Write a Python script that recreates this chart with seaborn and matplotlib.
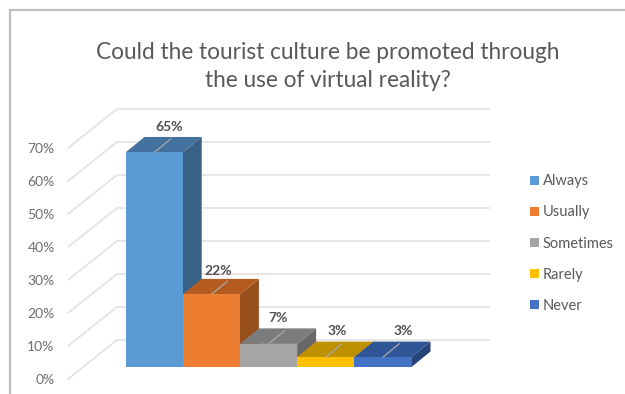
import matplotlib
matplotlib.use("Agg")
import matplotlib.pyplot as plt
import pandas as pd
import seaborn as sns
from matplotlib.lines import Line2D
from matplotlib.patches import Patch, Polygon

# Survey answers and their shares, in percent
categories = ["Always", "Usually", "Sometimes", "Rarely", "Never"]
values = [65, 22, 7, 3, 3]
value_labels = ["65%", "22%", "7%", "3%", "3%"]
axis_levels = [0, 10, 20, 30, 40, 50, 60, 70]
axis_labels = ["0%", "10%", "20%", "30%", "40%", "50%", "60%", "70%"]

# Face colours of each box
front_colors = ["#5B9BD5", "#ED7D31", "#A5A5A5", "#FFC000", "#4472C4"]
top_colors = ["#44729F", "#B55B20", "#7C7C7C", "#BF9000", "#2F5597"]
side_colors = ["#3A6186", "#97501C", "#686868", "#A67D00", "#264478"]

GRID = "#E2E2E2"
TEXT = "#595959"
FONT = "Lato"

# Oblique projection, in data units
BOX_DX, BOX_DY = 0.332, 4.7          # depth of a box
WALL_DY = 8.18                       # back wall above the box base
FLOOR_DY = -3.64                     # front edge below the box base
WALL_X, FRONT_X, RIGHT_X = -0.649, -1.505, 5.86

sns.set_theme(style="white")
plt.rcParams["font.family"] = [FONT, "DejaVu Sans"]

fig = plt.figure(figsize=(6.25, 3.94), dpi=100, facecolor="white")
ax = fig.add_axes([0, 0, 1, 1])

df = pd.DataFrame({"answer": categories, "share": values})
sns.barplot(data=df, x="answer", y="share", hue="answer", palette=front_colors,
            hue_order=categories, width=1.0, dodge=False, legend=False,
            saturation=1, linewidth=0, ax=ax, zorder=20)

ax.set_xlim(-2.694, 8.232)
ax.set_ylim(-8.18, 111.2)
ax.axis("off")

# Back wall and side floor gridlines with the axis labels
for level, label in zip(axis_levels, axis_labels):
    back = level + WALL_DY
    front = level + FLOOR_DY
    ax.plot([FRONT_X, WALL_X, RIGHT_X], [front, back, back],
            color=GRID, lw=1.2, zorder=1, solid_joinstyle="miter")
    ax.text(-1.74, front - 0.2, label, ha="right", va="center",
            fontsize=10, color="#6E6E6E")

# Top and side faces, left to right so each box overlaps its left neighbour
for i, v in enumerate(values):
    left, right = i - 0.5, i + 0.5
    top = Polygon([(left, v), (left + BOX_DX, v + BOX_DY),
                   (right + BOX_DX, v + BOX_DY), (right, v)],
                  closed=True, fc=top_colors[i], ec="none", zorder=2 + i * 2)
    side = Polygon([(right, 0), (right + BOX_DX, BOX_DY),
                    (right + BOX_DX, v + BOX_DY), (right, v)],
                   closed=True, fc=side_colors[i], ec="none", zorder=2 + i * 2)
    ax.add_patch(side)
    ax.add_patch(top)

# Value labels with their short leader lines
label_shift = [0.27, 0.12, 0.17, 0.20, 0.35]
label_rise = [7.8, 7.1, 7.9, 7.8, 7.8]
for i, (v, text) in enumerate(zip(values, value_labels)):
    ax.plot([i, i + 0.29], [v, v + 4.1], color="#A8A8A8", lw=0.9, zorder=21)
    ax.text(i + label_shift[i], v + label_rise[i], text, ha="center", va="center",
            fontsize=10, fontweight="bold", color="#505050", zorder=22)

# Legend at the right of the plot
handles = [Patch(fc=c, ec="none", label=n) for c, n in zip(front_colors, categories)]
leg = ax.legend(handles=handles, loc="center left",
                bbox_to_anchor=(530 / 625, 1 - 243.5 / 394), frameon=False,
                fontsize=10.5, handlelength=0.62, handleheight=0.62, handletextpad=0.25,
                labelspacing=1.17, labelcolor=TEXT, borderpad=0, borderaxespad=0)

# Title, centred over the plot
fig.text(328 / 625, 1 - 66.5 / 394,
         "Could the tourist culture be promoted through\nthe use of virtual reality?",
         ha="center", va="center", fontsize=16.3, color=TEXT, linespacing=1.45)

# Grey frame along the top and left edges
fig.add_artist(Line2D([9.5 / 625, 9.5 / 625, 1], [0, 1 - 10 / 394, 1 - 10 / 394],
                      color="#BDBDBD", lw=1.6, solid_joinstyle="miter"))

fig.savefig("out.png", dpi=100, facecolor="white")
